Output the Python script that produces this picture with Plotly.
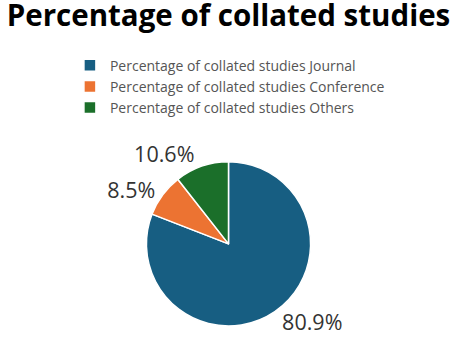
import plotly.graph_objects as go

labels = ["Percentage of collated studies Journal",
          "Percentage of collated studies Conference",
          "Percentage of collated studies Others"]
values = [80.9, 8.5, 10.6]
colors = ["#175e82", "#ec7332", "#1b6f2a"]

fig = go.Figure(go.Pie(
    labels=labels,
    values=values,
    sort=False,
    direction="clockwise",
    rotation=0,
    marker=dict(colors=colors, line=dict(color="white", width=1.5)),
    textinfo="percent",
    texttemplate="%{value:.1f}%",
    textposition="outside",
    textfont=dict(size=21.5, color="#333333", family="Open Sans"),
    domain=dict(x=[0.1, 0.9], y=[0.047, 0.527]),
    hoverinfo="label+value",
))

fig.update_layout(
    width=457, height=342,
    margin=dict(l=0, r=0, t=0, b=0, autoexpand=False),
    paper_bgcolor="white",
    plot_bgcolor="white",
    title=dict(text="<b>Percentage of collated studies</b>",
               x=0.5, xanchor="center", y=0.985, yanchor="top",
               font=dict(size=29.5, color="#000000", family="Open Sans")),
    legend=dict(x=0.153, xanchor="left", y=0.855, yanchor="top",
                font=dict(size=14, color="#555555", family="Open Sans"),
                itemwidth=30, tracegroupgap=0),
    showlegend=True,
)

fig.write_html("out.html",
               config={"displayModeBar": False},
               post_script="document.body.style.margin='0';document.body.style.padding='0';")
